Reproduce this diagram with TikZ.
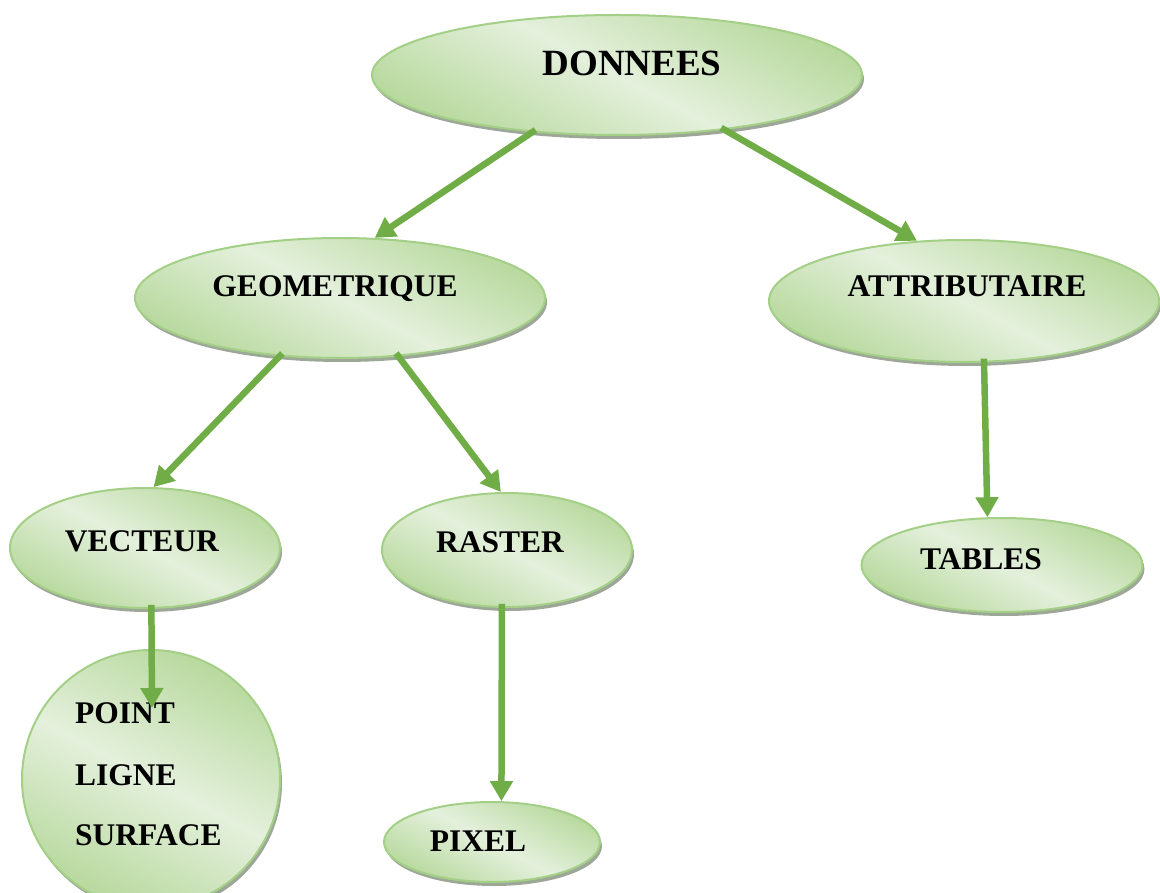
\documentclass[tikz,border=0pt]{standalone}
\usepackage{fontspec}
\setmainfont{Liberation Serif}
\usetikzlibrary{arrows.meta,shapes.geometric,shadows}

\definecolor{bubbleedge}{HTML}{A3CF86}
\definecolor{bubbledark}{HTML}{B8D99E}
\definecolor{bubblelight}{HTML}{E4F0DC}
\definecolor{bubbleshadow}{HTML}{9DA797}
\definecolor{linkgreen}{HTML}{70AD47}

\tikzset{
  bubble/.style={ellipse, draw=bubbleedge, line width=2pt, inner sep=0pt,
    top color=bubbledark, bottom color=bubbledark, middle color=bubblelight,
    shading angle=-28,
    drop shadow={shadow xshift=2pt, shadow yshift=-4pt, fill=bubbleshadow, opacity=1}},
  word/.style={font=\fontsize{31.5}{36}\selectfont\bfseries, inner sep=0pt, anchor=base},
  link/.style={draw=linkgreen, line width=6.5pt, shorten <=-4pt,
    -{Triangle[length=20pt,width=22pt]}}
}

\begin{document}
\begin{tikzpicture}[x=1pt,y=-1pt]
  \useasboundingbox (0,0) rectangle (1160,893);
  \clip (0,0) rectangle (1160,893);

  % bubbles
  \node[bubble, minimum width=490pt, minimum height=120pt] (donnees) at (617,75) {};
  \node[bubble, minimum width=410pt, minimum height=120pt] (geo) at (340,298) {};
  \node[bubble, minimum width=390pt, minimum height=122pt] (attr) at (964,301) {};
  \node[bubble, minimum width=270pt, minimum height=120pt] (vect) at (145,548) {};
  \node[bubble, minimum width=250pt, minimum height=114pt] (raster) at (507,550) {};
  \node[bubble, minimum width=281pt, minimum height=94pt] (tables) at (1002,565) {};
  \node[bubble, minimum width=258pt, minimum height=258pt] (forms) at (151,779) {};
  \node[bubble, minimum width=216pt, minimum height=80pt] (pixel) at (492,842) {};

  % labels
  \node[word, font=\fontsize{37}{42}\selectfont\bfseries] (tdonnees) at (632,76) {DONNEES};
  \node[word] (tgeo) at (335,297) {GEOMETRIQUE};
  \node[word] (tattr) at (967,297) {ATTRIBUTAIRE};
  \node[word] (tvect) at (142,551) {VECTEUR};
  \node[word] (traster) at (500,552) {RASTER};
  \node[word] (ttables) at (981,569) {TABLES};
  \node[word] (tpixel) at (478,851) {PIXEL};
  \node[word, anchor=base west] (tpoint) at (75,723) {POINT};
  \node[word, anchor=base west] (tligne) at (75,785) {LIGNE};
  \node[word, anchor=base west] (tsurface) at (75,845) {SURFACE};

  % connectors
  \coordinate (pointtip) at (152,708);
  \draw[link] (donnees.214) -- (geo.60);
  \draw[link] (donnees.333) -- (attr.128);
  \draw[link] (geo.224) -- (vect.82);
  \draw[link] (geo.315) -- (raster.96);
  \draw[link] (attr.288) -- (tables.107);
  \draw[link] (vect.276) -- (pointtip);
  \draw[link] (raster.265) -- (pixel.77);
\end{tikzpicture}
\end{document}
